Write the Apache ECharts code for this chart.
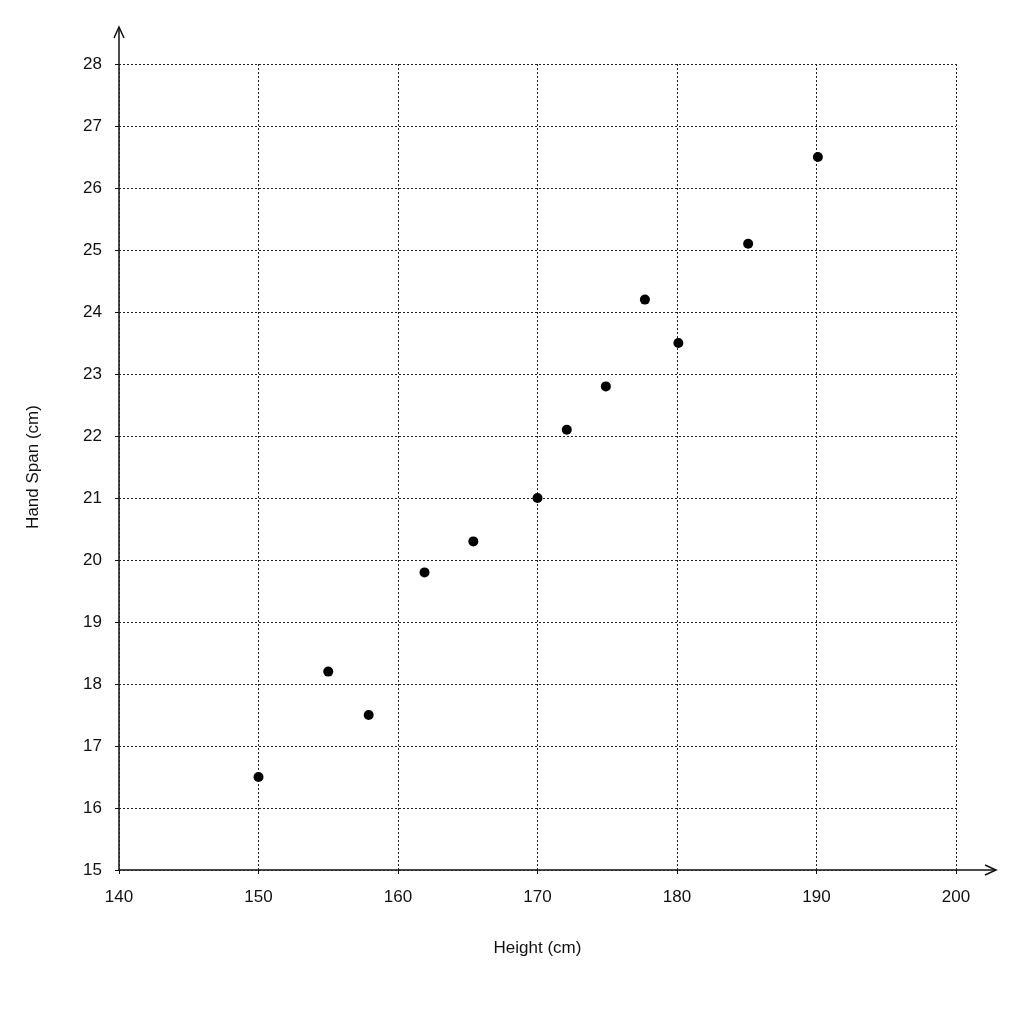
<!DOCTYPE html>
<html>
<head>
<meta charset="utf-8">
<script src="https://cdn.jsdelivr.net/npm/echarts@6/dist/echarts.min.js"></script>
<style>html,body{margin:0;background:#fff}#c{width:1024px;height:1024px}</style>
</head>
<body>
<div id="c"></div>
<script>
const heights = [150, 155, 157.9, 161.9, 165.4, 170, 172.1, 174.9, 177.7, 180.1, 185.1, 190.1]
const spans = [16.5, 18.2, 17.5, 19.8, 20.3, 21.0, 22.1, 22.8, 24.2, 23.5, 25.1, 26.5]

const chart = echarts.init(document.getElementById('c'))
const font = 'Liberation Sans, Arial, sans-serif'
const split = { show: true, lineStyle: { color: '#222', type: [2, 2], width: 1 } }

chart.setOption({
    animation: false,
    grid: { left: 119, right: 68, top: 64, bottom: 154 },
    xAxis: {
        type: 'value', min: 140, max: 200, interval: 10,
        name: 'Height (cm)', nameLocation: 'middle', nameGap: 70,
        nameTextStyle: { fontFamily: font, fontSize: 17, color: '#111' },
        axisLine: { show: false },
        axisTick: { show: true, length: 4, lineStyle: { color: '#111' } },
        axisLabel: { fontFamily: font, fontSize: 17, color: '#111', margin: 19 },
        splitLine: split
    },
    yAxis: {
        type: 'value', min: 15, max: 28, interval: 1,
        name: 'Hand Span (cm)', nameLocation: 'middle', nameGap: 77,
        nameTextStyle: { fontFamily: font, fontSize: 17, color: '#111' },
        axisLine: { show: false },
        axisTick: { show: true, length: 4, lineStyle: { color: '#111' } },
        axisLabel: { fontFamily: font, fontSize: 17, color: '#111', margin: 17 },
        splitLine: split
    },
    graphic: [
        { type: 'line', shape: { x1: 119, y1: 870, x2: 995, y2: 870 }, style: { stroke: '#111', lineWidth: 1.5 } },
        { type: 'polyline', shape: { points: [[985, 865], [996, 870], [985, 875]] }, style: { stroke: '#111', fill: null, lineWidth: 1.5 } },
        { type: 'line', shape: { x1: 119, y1: 870, x2: 119, y2: 28 }, style: { stroke: '#111', lineWidth: 1.5 } },
        { type: 'polyline', shape: { points: [[114, 38], [119, 27], [124, 38]] }, style: { stroke: '#111', fill: null, lineWidth: 1.5 } }
    ],
    series: [{
        type: 'scatter',
        symbolSize: 10,
        itemStyle: { color: '#000', opacity: 1 },
        data: heights.map((h, i) => [h, spans[i]])
    }]
})
</script>
</body>
</html>
